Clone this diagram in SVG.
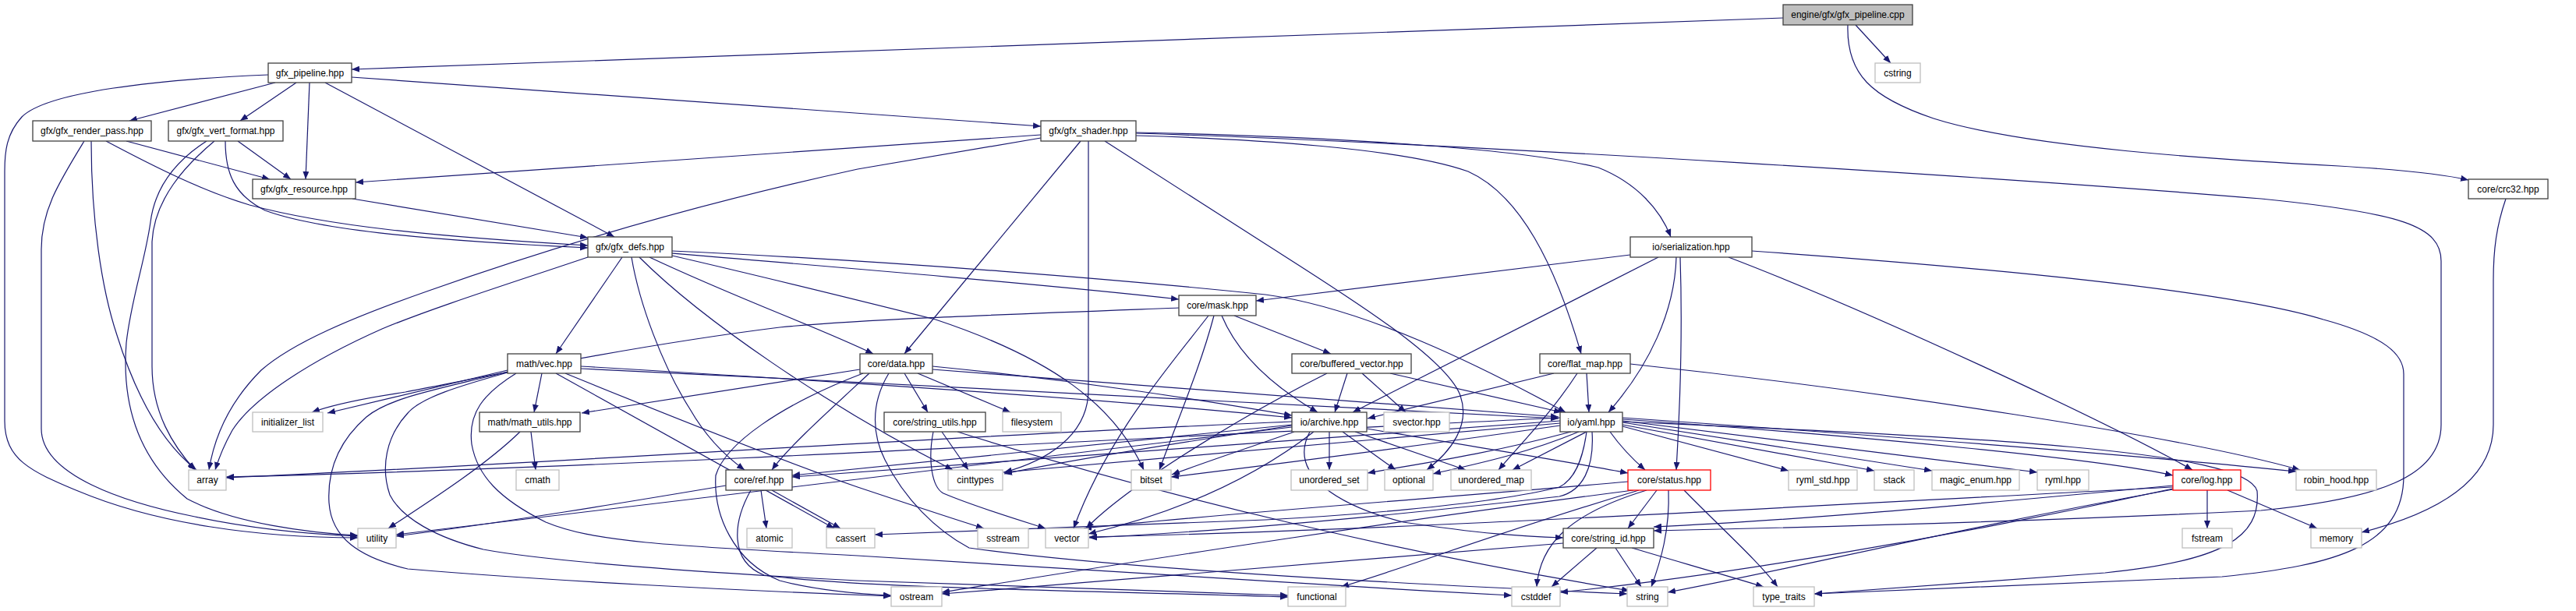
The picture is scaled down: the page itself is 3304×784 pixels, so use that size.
<svg xmlns="http://www.w3.org/2000/svg" width="3304" height="784" viewBox="0 0 3304 784">
<style>
rect{fill:#fff;stroke:#404040;stroke-width:1.3}
.g rect{stroke:#bfbfbf}
.r rect{stroke:#ff0000}
.root rect{fill:#bfbfbf}
text{font-family:"Liberation Sans",Arial,sans-serif;font-size:12px;fill:#000;text-anchor:middle}
#edges path{fill:none;stroke:#191970;stroke-width:1.2;marker-end:url(#ah)}
</style>
<defs>
<marker id="ah" markerUnits="userSpaceOnUse" markerWidth="11" markerHeight="8" refX="10" refY="4" orient="auto"><path d="M0,0 L10,4 L0,8 z" fill="#191970"/></marker>
</defs>
<rect x="0" y="0" width="3304" height="784" style="fill:#fff;stroke:none"/>
<g id="edges">
<path d="M2287,23 L451,89"/>
<path d="M2380,32 L2425,81"/>
<path d="M2370,32 C2368,95 2400,125 2480,152 C2600,190 2850,205 3000,213 C3100,219 3140,225 3166,231"/>
<path d="M344,96 C200,102 60,118 28,150 C8,172 6,195 6,220 L6,540 C6,590 40,605 100,630 C200,672 330,690 459,690"/>
<path d="M353,106 L166,155"/>
<path d="M380,106 L308,155"/>
<path d="M397,106 L392,230"/>
<path d="M417,106 L788,304"/>
<path d="M451,99 L1335,162"/>
<path d="M108,181 C75,235 53,270 53,320 L53,550 C53,610 160,645 250,663 C330,680 410,686 459,688"/>
<path d="M117,181 C117,280 130,370 150,430 C175,510 210,570 252,603"/>
<path d="M162,181 L346,230"/>
<path d="M136,181 C200,215 260,245 320,263 C420,290 560,304 754,315"/>
<path d="M265,181 C220,210 198,245 193,285 C186,335 168,385 162,440 C155,530 185,595 240,640 C300,672 400,684 459,687"/>
<path d="M275,181 C238,212 198,255 195,310 L195,470 C195,530 222,572 250,603"/>
<path d="M305,181 L373,230"/>
<path d="M289,181 C289,222 300,250 340,270 C410,296 560,309 754,318"/>
<path d="M452,255 L754,305"/>
<path d="M1335,173 L456,234"/>
<path d="M1335,177 L1100,217 C880,265 700,320 550,373 C450,408 375,440 335,475 C295,515 275,560 268,603"/>
<path d="M754,330 C650,365 555,395 490,422 C400,462 325,510 298,552 C288,570 280,590 276,603"/>
<path d="M798,330 L713,454"/>
<path d="M810,330 C820,390 850,470 885,525 C905,560 930,585 955,603"/>
<path d="M820,330 C900,410 1060,520 1222,603"/>
<path d="M833,330 C950,385 1050,420 1120,454"/>
<path d="M862,325 C1100,345 1350,366 1512,384"/>
<path d="M862,322 C1150,335 1450,360 1623,378 C1750,395 1900,470 2008,529"/>
<path d="M862,328 C1000,360 1100,385 1200,410 C1350,460 1430,520 1467,603"/>
<path d="M1386,181 L1160,454"/>
<path d="M1396,181 L1396,500 C1396,560 1340,592 1288,606"/>
<path d="M1417,181 L1623,313 C1720,375 1850,455 1872,505 C1888,545 1860,580 1830,603"/>
<path d="M1457,170 C1700,175 1950,190 2050,215 C2100,235 2130,270 2143,304"/>
<path d="M1457,174 C1600,178 1800,190 1883,220 C1950,250 1995,340 2028,454"/>
<path d="M1457,171 C1900,185 2600,230 2900,255 C3080,273 3131,290 3131,335 L3131,545 C3131,612 3050,640 2900,655 C2600,670 2300,677 2121,681"/>
<path d="M3214,255 C3202,290 3198,320 3198,360 L3198,545 C3198,620 3120,660 3029,683"/>
<path d="M2247,322 C2500,340 2850,370 2980,410 C3060,432 3083,455 3083,480 L3083,610 C3083,700 3000,725 2850,740 C2600,752 2450,758 2327,762"/>
<path d="M2091,327 L1611,386"/>
<path d="M2127,330 L1735,529"/>
<path d="M2150,330 C2148,400 2115,470 2063,529"/>
<path d="M2155,330 C2158,420 2155,520 2150,603"/>
<path d="M2217,330 C2400,400 2700,540 2812,603"/>
<path d="M1550,405 C1500,470 1420,560 1377,678"/>
<path d="M1557,405 C1540,470 1510,540 1487,603"/>
<path d="M1567,405 C1590,460 1640,500 1690,529"/>
<path d="M1583,405 L1707,454"/>
<path d="M1512,395 C1300,403 1100,410 1000,420 C800,445 600,488 520,503 C460,512 425,520 400,529"/>
<path d="M695,479 L685,529"/>
<path d="M651,475 L420,530"/>
<path d="M651,477 C560,500 500,510 470,535 C430,570 420,610 422,645 C425,690 460,715 523,730 C700,745 950,758 1143,765"/>
<path d="M662,479 C620,505 600,530 605,570 C612,610 640,640 700,670 C760,695 850,700 1100,713 C1500,738 1700,752 1939,764"/>
<path d="M651,478 C590,495 540,510 523,530 C495,560 488,600 500,635 C515,665 560,690 620,705 C700,720 900,735 1100,745 C1400,755 1550,760 1652,764"/>
<path d="M713,479 L1070,678"/>
<path d="M725,479 C850,530 1000,590 1100,625 C1160,645 1220,665 1262,678"/>
<path d="M745,470 C1000,485 1400,510 1657,536"/>
<path d="M745,473 C1200,495 1700,520 1999,537"/>
<path d="M1103,474 L746,530"/>
<path d="M1115,479 C1060,530 1010,575 990,603"/>
<path d="M1160,479 L1190,529"/>
<path d="M1177,479 L1296,529"/>
<path d="M1196,470 C1400,490 1550,515 1657,533"/>
<path d="M1196,474 C1500,495 1800,520 1999,535"/>
<path d="M1107,479 C1000,520 930,570 918,610 C915,660 940,720 1000,745 C1050,758 1100,762 1143,764"/>
<path d="M1140,479 C1115,520 1120,560 1135,590 C1160,640 1200,680 1243,703 C1400,725 1700,745 2087,762"/>
<path d="M1208,554 L1242,603"/>
<path d="M1197,554 C1190,590 1195,625 1210,633 C1250,650 1300,665 1341,678"/>
<path d="M1228,554 C1500,640 1800,710 2090,758"/>
<path d="M1728,479 L1712,529"/>
<path d="M1747,479 L1803,529"/>
<path d="M1702,479 C1600,530 1450,620 1393,678"/>
<path d="M1783,479 L2003,529"/>
<path d="M1993,479 L1754,537"/>
<path d="M2035,479 L2038,529"/>
<path d="M2023,479 C1990,530 1950,570 1922,603"/>
<path d="M2091,467 C2400,500 2800,560 2950,603"/>
<path d="M681,554 L687,603"/>
<path d="M667,554 C620,600 540,650 498,678"/>
<path d="M976,629 L983,678"/>
<path d="M990,629 L1078,678"/>
<path d="M931,623 C800,645 650,670 508,688"/>
<path d="M963,629 C940,670 935,720 980,738 C1100,755 1400,758 1652,766"/>
<path d="M1657,541 C1200,560 700,595 290,613"/>
<path d="M1657,548 C1200,600 800,650 508,686"/>
<path d="M1657,545 C1400,570 1150,595 1016,610"/>
<path d="M1657,546 C1500,570 1350,595 1288,608"/>
<path d="M1660,554 C1600,575 1540,595 1503,609"/>
<path d="M1705,554 L1705,603"/>
<path d="M1722,554 L1790,603"/>
<path d="M1738,554 L1880,603"/>
<path d="M1753,550 C1900,575 2010,592 2088,607"/>
<path d="M1685,554 C1600,620 1500,660 1396,685"/>
<path d="M1680,554 C1650,610 1720,650 1800,670 C1900,685 1950,688 2005,690"/>
<path d="M2001,536 C1500,560 800,600 290,612"/>
<path d="M2001,540 C1600,570 1200,600 1016,612"/>
<path d="M2001,543 C1700,570 1400,598 1287,606"/>
<path d="M2001,546 C1800,575 1600,600 1502,612"/>
<path d="M2015,554 C1900,585 1800,598 1754,607"/>
<path d="M2025,554 C1950,585 1880,598 1838,608"/>
<path d="M2035,554 L1940,603"/>
<path d="M2065,554 C2080,575 2095,590 2110,603"/>
<path d="M2081,547 L2294,604"/>
<path d="M2081,545 L2404,604"/>
<path d="M2081,542 L2478,604"/>
<path d="M2081,540 L2613,606"/>
<path d="M2081,538 C2400,560 2700,590 2787,610"/>
<path d="M2081,536 C2500,565 2800,590 2945,605"/>
<path d="M2081,541 C2500,560 2880,575 2895,630 C2900,690 2850,720 2700,735 C2500,750 2400,757 2327,762"/>
<path d="M2042,554 C2045,600 2030,630 2000,637 C1800,660 1600,680 1397,690"/>
<path d="M2035,554 C2030,590 2020,615 2000,625 C1900,650 1700,663 1623,667 C1400,675 1250,682 1122,686"/>
<path d="M2088,618 C1900,635 1550,660 1390,678"/>
<path d="M2095,629 C1700,680 1400,730 1208,760"/>
<path d="M2125,629 L2088,678"/>
<path d="M2140,629 C2142,680 2130,720 2118,753"/>
<path d="M2160,629 C2210,680 2255,720 2280,753"/>
<path d="M2112,629 C2010,660 1975,700 1971,753"/>
<path d="M2102,629 C1900,690 1800,730 1720,753"/>
<path d="M2048,703 L1990,753"/>
<path d="M2072,703 L2105,753"/>
<path d="M2093,703 C2150,720 2220,740 2262,753"/>
<path d="M2005,697 C1800,715 1500,740 1208,762"/>
<path d="M2831,629 L2831,678"/>
<path d="M2857,629 L2972,678"/>
<path d="M2787,623 C2500,650 2300,668 2121,676"/>
<path d="M2787,625 C2300,650 1800,680 1397,689"/>
<path d="M2787,628 C2500,680 2300,730 2139,760"/>
<path d="M2787,627 C2500,690 2200,740 2001,760"/>
</g>
<g id="n_cpp" class="root"><rect x="2287" y="6" width="166" height="26"/><text x="2370" y="23">engine/gfx/gfx_pipeline.cpp</text></g>
<g id="n_pipe"><rect x="344" y="81" width="107" height="25"/><text x="397.5" y="98">gfx_pipeline.hpp</text></g>
<g id="n_cstring" class="g"><rect x="2405" y="81" width="58" height="25"/><text x="2434" y="98">cstring</text></g>
<g id="n_rp"><rect x="42" y="155" width="152" height="26"/><text x="118" y="172">gfx/gfx_render_pass.hpp</text></g>
<g id="n_vf"><rect x="216" y="155" width="147" height="26"/><text x="289.5" y="172">gfx/gfx_vert_format.hpp</text></g>
<g id="n_sh"><rect x="1335" y="155" width="122" height="26"/><text x="1396" y="172">gfx/gfx_shader.hpp</text></g>
<g id="n_res"><rect x="324" y="230" width="132" height="25"/><text x="390" y="247">gfx/gfx_resource.hpp</text></g>
<g id="n_crc"><rect x="3166" y="230" width="102" height="25"/><text x="3217" y="247">core/crc32.hpp</text></g>
<g id="n_defs"><rect x="754" y="304" width="108" height="26"/><text x="808" y="321">gfx/gfx_defs.hpp</text></g>
<g id="n_ser"><rect x="2091" y="304" width="156" height="26"/><text x="2169" y="321">io/serialization.hpp</text></g>
<g id="n_mask"><rect x="1512" y="379" width="99" height="26"/><text x="1561.5" y="396">core/mask.hpp</text></g>
<g id="n_vec"><rect x="651" y="454" width="94" height="25"/><text x="698" y="471">math/vec.hpp</text></g>
<g id="n_data"><rect x="1103" y="454" width="93" height="25"/><text x="1149.5" y="471">core/data.hpp</text></g>
<g id="n_bv"><rect x="1657" y="454" width="153" height="25"/><text x="1733.5" y="471">core/buffered_vector.hpp</text></g>
<g id="n_fm"><rect x="1975" y="454" width="116" height="25"/><text x="2033" y="471">core/flat_map.hpp</text></g>
<g id="n_il" class="g"><rect x="324" y="529" width="90" height="25"/><text x="369" y="546">initializer_list</text></g>
<g id="n_mu"><rect x="615" y="529" width="129" height="25"/><text x="679.5" y="546">math/math_utils.hpp</text></g>
<g id="n_su"><rect x="1134" y="529" width="130" height="25"/><text x="1199" y="546">core/string_utils.hpp</text></g>
<g id="n_fs" class="g"><rect x="1286" y="529" width="75" height="25"/><text x="1323.5" y="546">filesystem</text></g>
<g id="n_ar"><rect x="1657" y="529" width="96" height="25"/><text x="1705" y="546">io/archive.hpp</text></g>
<g id="n_sv" class="g"><rect x="1775" y="529" width="84" height="25"/><text x="1817" y="546">svector.hpp</text></g>
<g id="n_yaml"><rect x="2001" y="529" width="80" height="25"/><text x="2041" y="546">io/yaml.hpp</text></g>
<g id="n_array" class="g"><rect x="242" y="603" width="48" height="26"/><text x="266" y="620">array</text></g>
<g id="n_cmath" class="g"><rect x="662" y="603" width="55" height="26"/><text x="689.5" y="620">cmath</text></g>
<g id="n_ref"><rect x="931" y="603" width="85" height="26"/><text x="973.5" y="620">core/ref.hpp</text></g>
<g id="n_cinttypes" class="g"><rect x="1216" y="603" width="70" height="26"/><text x="1251" y="620">cinttypes</text></g>
<g id="n_bitset" class="g"><rect x="1451" y="603" width="51" height="26"/><text x="1476.5" y="620">bitset</text></g>
<g id="n_uset" class="g"><rect x="1656" y="603" width="98" height="26"/><text x="1705" y="620">unordered_set</text></g>
<g id="n_optional" class="g"><rect x="1776" y="603" width="62" height="26"/><text x="1807" y="620">optional</text></g>
<g id="n_umap" class="g"><rect x="1861" y="603" width="103" height="26"/><text x="1912.5" y="620">unordered_map</text></g>
<g id="n_status" class="r"><rect x="2088" y="603" width="106" height="26"/><text x="2141" y="620">core/status.hpp</text></g>
<g id="n_rymlstd" class="g"><rect x="2294" y="603" width="88" height="26"/><text x="2338" y="620">ryml_std.hpp</text></g>
<g id="n_stack" class="g"><rect x="2404" y="603" width="51" height="26"/><text x="2429.5" y="620">stack</text></g>
<g id="n_magic" class="g"><rect x="2478" y="603" width="112" height="26"/><text x="2534" y="620">magic_enum.hpp</text></g>
<g id="n_ryml" class="g"><rect x="2613" y="603" width="66" height="26"/><text x="2646" y="620">ryml.hpp</text></g>
<g id="n_log" class="r"><rect x="2787" y="603" width="87" height="26"/><text x="2830.5" y="620">core/log.hpp</text></g>
<g id="n_robin" class="g"><rect x="2945" y="603" width="103" height="26"/><text x="2996.5" y="620">robin_hood.hpp</text></g>
<g id="n_utility" class="g"><rect x="459" y="678" width="49" height="25"/><text x="483.5" y="695">utility</text></g>
<g id="n_atomic" class="g"><rect x="958" y="678" width="58" height="25"/><text x="987" y="695">atomic</text></g>
<g id="n_cassert" class="g"><rect x="1060" y="678" width="62" height="25"/><text x="1091" y="695">cassert</text></g>
<g id="n_sstream" class="g"><rect x="1254" y="678" width="65" height="25"/><text x="1286.5" y="695">sstream</text></g>
<g id="n_vector" class="g"><rect x="1341" y="678" width="55" height="25"/><text x="1368.5" y="695">vector</text></g>
<g id="n_sid"><rect x="2005" y="678" width="116" height="25"/><text x="2063" y="695">core/string_id.hpp</text></g>
<g id="n_fstream" class="g"><rect x="2799" y="678" width="64" height="25"/><text x="2831" y="695">fstream</text></g>
<g id="n_memory" class="g"><rect x="2964" y="678" width="65" height="25"/><text x="2996.5" y="695">memory</text></g>
<g id="n_ostream" class="g"><rect x="1143" y="753" width="65" height="25"/><text x="1175.5" y="770">ostream</text></g>
<g id="n_functional" class="g"><rect x="1652" y="753" width="74" height="25"/><text x="1689" y="770">functional</text></g>
<g id="n_cstddef" class="g"><rect x="1939" y="753" width="62" height="25"/><text x="1970" y="770">cstddef</text></g>
<g id="n_string" class="g"><rect x="2087" y="753" width="52" height="25"/><text x="2113" y="770">string</text></g>
<g id="n_tt" class="g"><rect x="2249" y="753" width="78" height="25"/><text x="2288" y="770">type_traits</text></g>
</svg>
